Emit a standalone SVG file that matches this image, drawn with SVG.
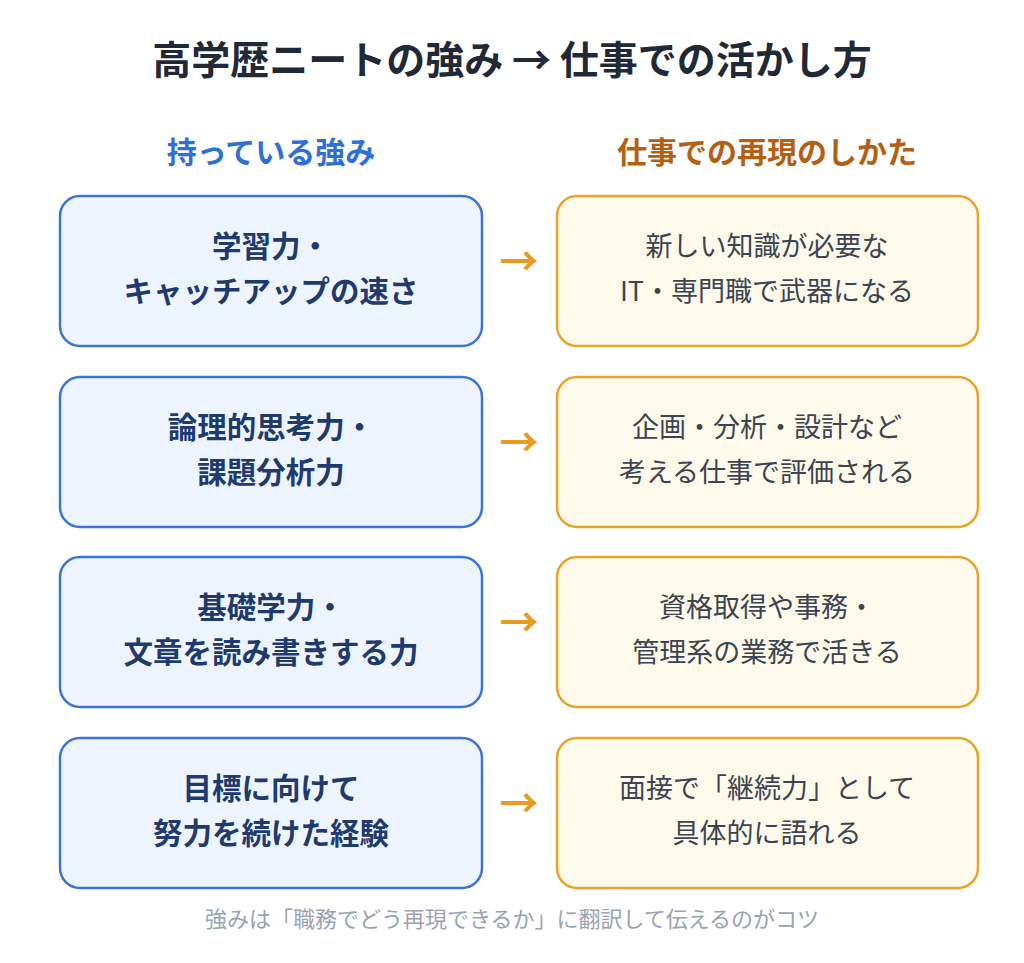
<svg xmlns="http://www.w3.org/2000/svg" width="1024" height="963" viewBox="0 0 1024 963">
<style>
text{font-family:"Noto Sans CJK JP","Noto Sans",sans-serif;text-anchor:middle}
.title{font-size:39px;font-weight:700;fill:#1f2937}
.hl{font-size:30px;font-weight:700;fill:#2f6fd8}
.hr{font-size:30px;font-weight:700;fill:#b55f12}
.lb rect{fill:#eef4fd;stroke:#3b73d9;stroke-width:2.5}
.rb rect{fill:#fefaeb;stroke:#e8a42a;stroke-width:2.5}
.lb text{font-size:29.5px;font-weight:700;fill:#1e3a6e}
.rb text{font-size:27px;font-weight:400;fill:#3b4450}
.arr{font-size:39px;font-weight:700;fill:#e89a22}
.foot{font-size:22px;fill:#9aa3b2}
</style>
<rect width="1024" height="963" fill="#ffffff"/>
<text class="title" x="512" y="74">高学歴ニートの強み → 仕事での活かし方</text>
<text class="hl" x="271" y="163">持っている強み</text>
<text class="hr" x="767" y="163">仕事での再現のしかた</text>

<g id="l1" class="lb"><rect x="60" y="196" width="422" height="150" rx="20"/><text x="271" y="257">学習力・</text><text x="271" y="302">キャッチアップの速さ</text></g>
<g id="r1" class="rb"><rect x="557" y="196" width="421" height="150" rx="20"/><text x="767" y="256">新しい知識が必要な</text><text x="767" y="301">IT・専門職で武器になる</text></g>

<g id="l2" class="lb"><rect x="60" y="377" width="422" height="150" rx="20"/><text x="271" y="438">論理的思考力・</text><text x="271" y="483">課題分析力</text></g>
<g id="r2" class="rb"><rect x="557" y="377" width="421" height="150" rx="20"/><text x="767" y="437">企画・分析・設計など</text><text x="767" y="482">考える仕事で評価される</text></g>

<g id="l3" class="lb"><rect x="60" y="557" width="422" height="150" rx="20"/><text x="271" y="618">基礎学力・</text><text x="271" y="663">文章を読み書きする力</text></g>
<g id="r3" class="rb"><rect x="557" y="557" width="421" height="150" rx="20"/><text x="767" y="617">資格取得や事務・</text><text x="767" y="662">管理系の業務で活きる</text></g>

<g id="l4" class="lb"><rect x="60" y="738" width="422" height="150" rx="20"/><text x="271" y="799">目標に向けて</text><text x="271" y="844">努力を続けた経験</text></g>
<g id="r4" class="rb"><rect x="557" y="738" width="421" height="150" rx="20"/><text x="767" y="798">面接で「継続力」として</text><text x="767" y="843">具体的に語れる</text></g>

<g id="connectors">
<text class="arr" x="519" y="275">→</text>
<text class="arr" x="519" y="456">→</text>
<text class="arr" x="519" y="636">→</text>
<text class="arr" x="519" y="817">→</text>
</g>
<text class="foot" x="512" y="927">強みは「職務でどう再現できるか」に翻訳して伝えるのがコツ</text>
</svg>
